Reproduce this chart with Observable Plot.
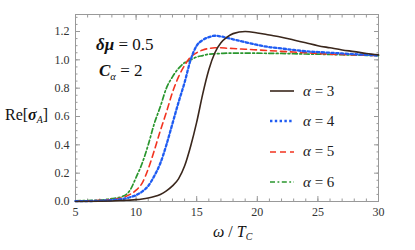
<!DOCTYPE html>
<html><head><meta charset="utf-8">
<script src="https://cdn.jsdelivr.net/npm/d3@7"></script>
<script src="https://cdn.jsdelivr.net/npm/@observablehq/plot@0.6"></script>
<style>
body{margin:0;background:#fff;}
#wrap{position:relative;width:415px;height:250px;font-family:"Liberation Serif","Times New Roman",Times,Tinos,"DejaVu Serif","Noto Serif",serif;}
.ov{position:absolute;white-space:nowrap;color:#111;line-height:1;}
.ov i{font-style:italic;}
sub{font-size:62%;vertical-align:baseline;position:relative;top:0.35em;}
#legend{position:absolute;left:270px;top:76px;}
#legend .row{display:flex;align-items:center;height:30.3px;}
#legend svg{display:block;}
#legend span{font-size:15px;margin-left:9px;color:#222;}
</style></head><body><div id="wrap"></div>
<script>
const omega = [5,7,8,9,9.5,10,10.5,11,11.5,12,12.5,13,13.5,14,14.5,15,15.5,16,16.5,17,17.5,18,19,20,21,22,23,24,25,26,27,28,29,30];
const alphas = [3,4,5,6];
const reA3 = [0.0,0.002,0.004,0.008,0.01,0.013,0.018,0.025,0.035,0.05,0.075,0.11,0.16,0.25,0.39,0.56,0.76,0.93,1.05,1.12,1.16,1.185,1.2,1.19,1.175,1.16,1.14,1.12,1.1,1.085,1.07,1.058,1.045,1.035];
const reA4 = [0.002,0.005,0.01,0.02,0.03,0.045,0.07,0.11,0.18,0.27,0.4,0.55,0.7,0.84,1.0,1.1,1.14,1.16,1.17,1.165,1.155,1.145,1.125,1.105,1.09,1.08,1.07,1.06,1.055,1.05,1.045,1.04,1.035,1.03];
const reA5 = [0.003,0.008,0.015,0.03,0.05,0.08,0.13,0.23,0.36,0.5,0.63,0.77,0.88,0.96,1.02,1.05,1.07,1.08,1.085,1.085,1.082,1.08,1.075,1.07,1.065,1.06,1.055,1.05,1.045,1.04,1.038,1.035,1.032,1.03];
const reA6 = [0.005,0.01,0.02,0.04,0.08,0.17,0.27,0.4,0.55,0.67,0.8,0.88,0.94,0.98,1.0,1.02,1.03,1.04,1.043,1.045,1.047,1.048,1.048,1.047,1.046,1.045,1.043,1.041,1.04,1.038,1.036,1.034,1.032,1.03];
const xTicks = [5,10,15,20,25,30];
const yTicks = [0,0.2,0.4,0.6,0.8,1.0,1.2];
const colors = ["#3a271c","#1f5cf2","#f2331f","#2a962e"];
const dashes = [null,"2.4,2.4","6,4","5,2.5,1.8,2.5"];
const widths = [1.6,2.3,1.6,1.7];

const series = [reA3, reA4, reA5, reA6];
const rows = alphas.flatMap((a, i) => omega.map((w, j) => ({alpha: a, omega: w, re: series[i][j]})));

const xMinor = d3.range(5, 30.01, 1);
const yMinor = d3.range(0, 1.31, 0.05);
const empty = () => "";
const ax = {stroke: "#999", label: null};
const fontStack = "'Liberation Serif','Times New Roman',Times,Tinos,'DejaVu Serif','Noto Serif',serif";

const marks = [
  Plot.frame({stroke: "#999"}),
  Plot.axisX({...ax, ticks: xTicks, tickSize: 0, tickPadding: 6, fill: "#333", fontFamily: fontStack}),
  Plot.axisY({...ax, ticks: yTicks, tickSize: 0, tickPadding: 6, tickFormat: ".1f", fill: "#333", fontFamily: fontStack}),
  Plot.axisX({...ax, ticks: xTicks, tickSize: -5, tickFormat: empty}),
  Plot.axisX({...ax, ticks: xMinor, tickSize: -2.5, tickFormat: empty}),
  Plot.axisX({...ax, anchor: "top", ticks: xTicks, tickSize: -5, tickFormat: empty}),
  Plot.axisX({...ax, anchor: "top", ticks: xMinor, tickSize: -2.5, tickFormat: empty}),
  Plot.axisY({...ax, ticks: yTicks, tickSize: -5, tickFormat: empty}),
  Plot.axisY({...ax, ticks: yMinor, tickSize: -2.5, tickFormat: empty}),
  Plot.axisY({...ax, anchor: "right", ticks: yTicks, tickSize: -5, tickFormat: empty}),
  Plot.axisY({...ax, anchor: "right", ticks: yMinor, tickSize: -2.5, tickFormat: empty})
];
alphas.slice().reverse().forEach((a) => {
  const i = alphas.indexOf(a);
  marks.push(Plot.line(rows.filter(d => d.alpha === a), {
    x: "omega", y: "re", stroke: colors[i], strokeWidth: widths[i],
    strokeDasharray: dashes[i], curve: "monotone-x"
  }));
});

const plot = Plot.plot({
  width: 415, height: 250,
  marginLeft: 75, marginRight: 37, marginTop: 14, marginBottom: 49,
  x: {domain: [5, 30]},
  y: {domain: [0, 1.32]},
  style: {fontFamily: fontStack, fontSize: "12px", color: "#333", background: "#fff"},
  marks
});
const wrap = document.getElementById("wrap");
wrap.appendChild(plot);

function ov(html, css) {
  const d = document.createElement("div");
  d.className = "ov"; d.innerHTML = html; d.style.cssText = css;
  wrap.appendChild(d);
}
ov("Re[<i style='font-weight:bold'>σ</i><sub><i>A</i></sub>]", "left:5px;top:107px;font-size:16px;");
ov("<i>ω</i> / <i>T</i><sub><i>C</i></sub>", "left:213px;top:224px;font-size:16px;");
ov("<b><i>δμ</i></b> = 0.5", "left:96px;top:36px;font-size:17px;");
ov("<b><i>C</i></b><sub><i>α</i></sub> = 2", "left:99px;top:62px;font-size:17px;");

const legend = document.createElement("div");
legend.id = "legend";
alphas.forEach((a, i) => {
  const r = document.createElement("div"); r.className = "row";
  r.innerHTML = `<svg width="24" height="6"><line x1="0" x2="24" y1="3" y2="3" stroke="${colors[i]}" stroke-width="${widths[i]}" ${dashes[i] ? `stroke-dasharray="${dashes[i]}"` : ""}/></svg><span><i>α</i> = ${a}</span>`;
  legend.appendChild(r);
});
wrap.appendChild(legend);
</script></body></html>
